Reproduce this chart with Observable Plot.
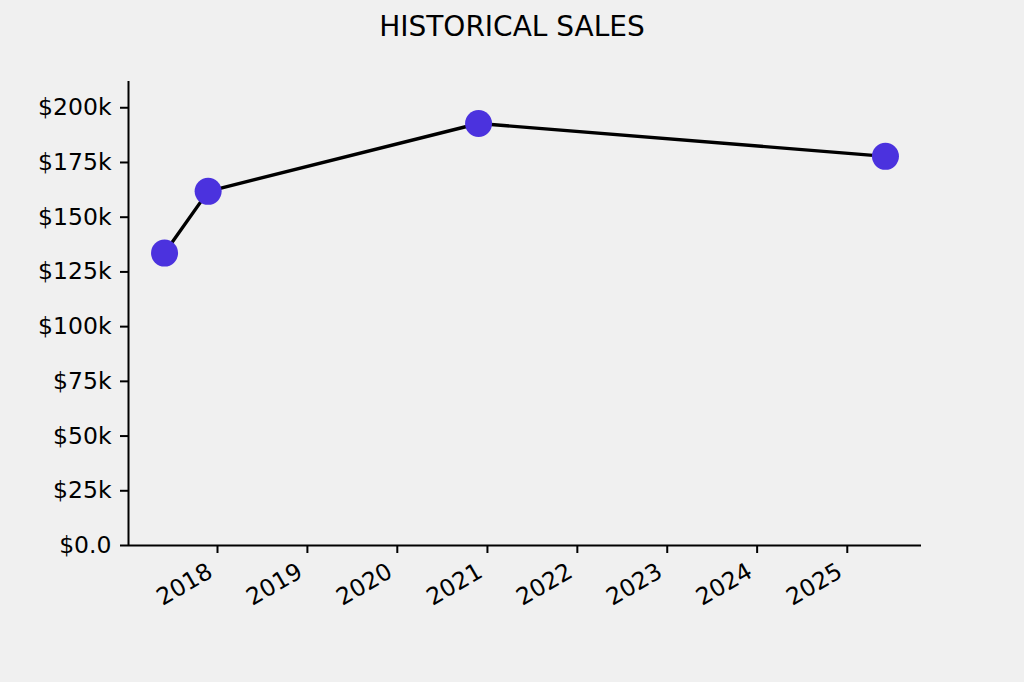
<!DOCTYPE html>
<html>
<head>
<meta charset="utf-8">
<script src="https://cdn.jsdelivr.net/npm/d3@7"></script>
<script src="https://cdn.jsdelivr.net/npm/@observablehq/plot@0.6"></script>
<style>
  html, body { margin: 0; padding: 0; background: #f0f0f0; }
  #wrap { position: relative; width: 1024px; height: 682px; overflow: hidden; }
  #title { position: absolute; left: 0; width: 1024px; top: 13px; text-align: center;
           font-family: "DejaVu Sans", sans-serif; font-size: 28px; line-height: 28px; color: #000; }
  #chart { position: absolute; left: 0; top: 50px; }
</style>
</head>
<body>
<div id="wrap">
  <div id="title">HISTORICAL SALES</div>
  <div id="chart"></div>
</div>
<script>
// Data
const saleDates = ["2017-05-31", "2017-11-24", "2020-11-26", "2025-06-05"];
const saleValues = [133600, 161800, 192800, 177800];

// Axis ticks
const xTickYears = [2018, 2019, 2020, 2021, 2022, 2023, 2024, 2025];
const xTickLabels = ["2018", "2019", "2020", "2021", "2022", "2023", "2024", "2025"];
const yTicks = [0, 25000, 50000, 75000, 100000, 125000, 150000, 175000, 200000];
const yTickLabels = ["$0.0", "$25k", "$50k", "$75k", "$100k", "$125k", "$150k", "$175k", "$200k"];
const yMax = 212000;

const data = saleDates.map((d, i) => ({date: new Date(d + "T00:00:00Z"), value: saleValues[i]}));
const xTicks = xTickYears.map(y => new Date(Date.UTC(y, 0, 1)));

// matplotlib-like 5% margin on x
const [x0, x1] = d3.extent(data, d => +d.date);
const pad = (x1 - x0) * 0.05;
const xDomain = [new Date(x0 - pad), new Date(x1 + pad)];

const font = "DejaVu Sans, sans-serif";

const chart = Plot.plot({
  width: 1024,
  height: 632,
  marginLeft: 128,
  marginRight: 103,
  marginTop: 31,
  marginBottom: 137,
  style: {background: "transparent", fontFamily: font, fontSize: "23px", color: "#000"},
  x: {type: "utc", domain: xDomain},
  y: {domain: [0, yMax]},
  marks: [
    Plot.axisY({
      ticks: yTicks,
      tickFormat: v => yTickLabels[yTicks.indexOf(v)],
      tickSize: 8,
      tickPadding: 9,
      strokeWidth: 2,
      label: null,
      fontSize: 23.5
    }),
    // x tick marks
    Plot.ruleX(xTicks, {y1: 0, y2: 0, insetBottom: -8, stroke: "#000", strokeWidth: 2}),
    // x tick labels
    Plot.axisX({
      ticks: xTicks,
      tickFormat: v => xTickLabels[xTicks.findIndex(t => +t === +v)],
      tickSize: 0,
      tickPadding: 24,
      dx: -7,
      tickRotate: -30,
      label: null,
      fontSize: 23.5
    }),
    Plot.ruleX([xDomain[0]], {y1: 0, y2: yMax, stroke: "#000", strokeWidth: 2}),
    Plot.ruleY([0], {stroke: "#000", strokeWidth: 2}),
    Plot.line(data, {x: "date", y: "value", stroke: "#000", strokeWidth: 3.4}),
    Plot.dot(data, {x: "date", y: "value", r: 13.5, fill: "#4b32de", stroke: "none"})
  ]
});

document.getElementById("chart").appendChild(chart);
</script>
</body>
</html>
